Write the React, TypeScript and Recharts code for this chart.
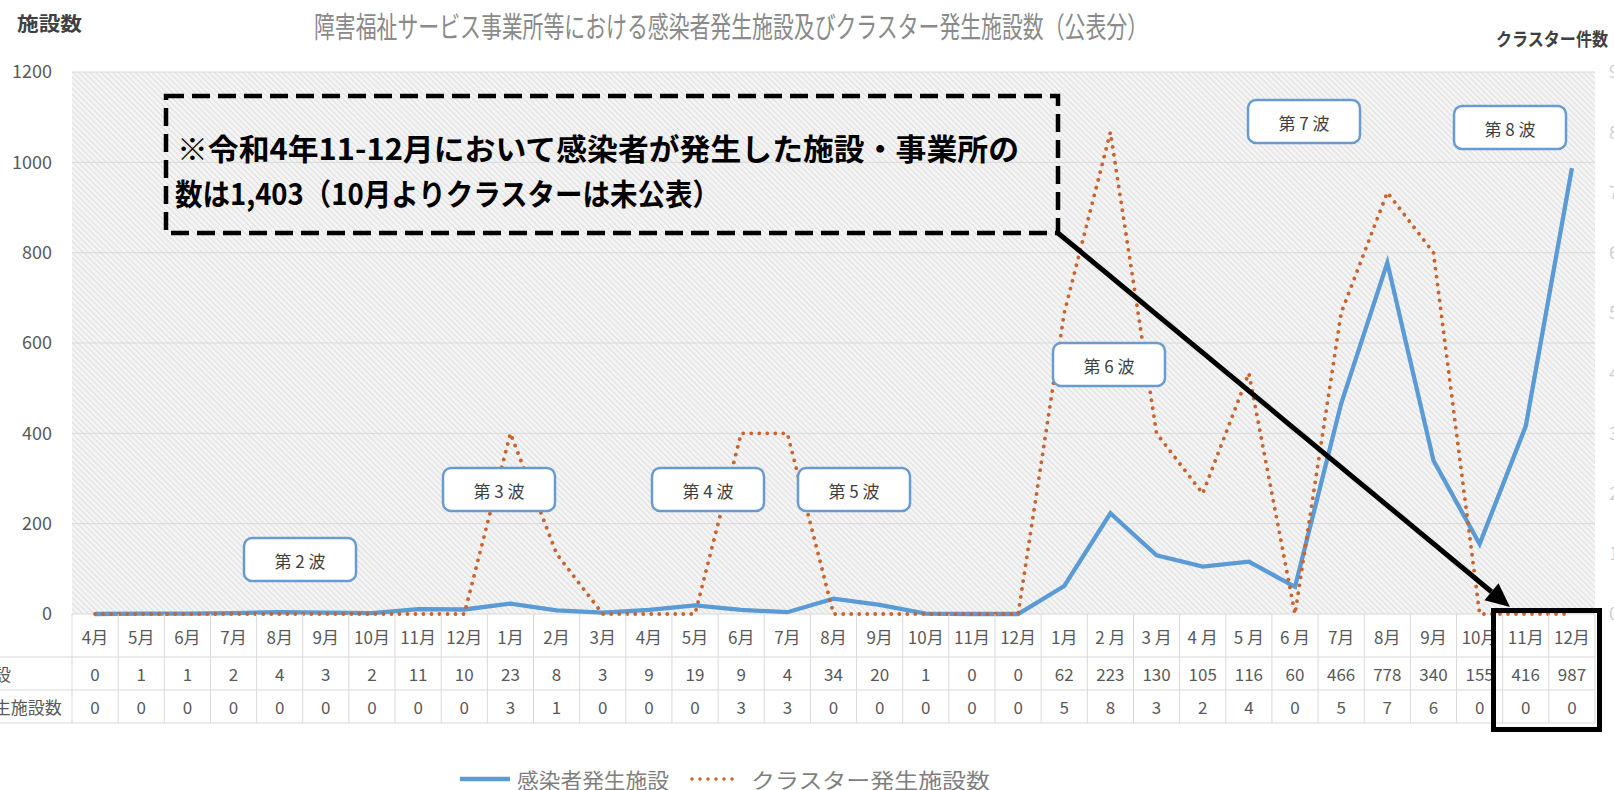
import React from 'react';
import { LineChart, Line, XAxis, YAxis, CartesianGrid } from 'recharts';

// 令和2年4月〜令和4年12月
const months = [
  '4月', '5月', '6月', '7月', '8月', '9月', '10月', '11月', '12月',
  '1月', '2月', '3月', '4月', '5月', '6月', '7月', '8月', '9月', '10月', '11月', '12月',
  '1月', '2 月', '3 月', '4 月', '5 月', '6 月', '7月', '8月', '9月', '10月', '11月', '12月',
];
const infected = [0, 1, 1, 2, 4, 3, 2, 11, 10, 23, 8, 3, 9, 19, 9, 4, 34, 20, 1, 0, 0, 62, 223, 130, 105, 116, 60, 466, 778, 340, 155, 416, 987];
const cluster = [0, 0, 0, 0, 0, 0, 0, 0, 0, 3, 1, 0, 0, 0, 3, 3, 0, 0, 0, 0, 0, 5, 8, 3, 2, 4, 0, 5, 7, 6, 0, 0, 0];
const leftTicks = [0, 200, 400, 600, 800, 1000, 1200];
const rightTicks = [0, 1, 2, 3, 4, 5, 6, 7, 8, 9];
const seriesNames = ['感染者発生施設', 'クラスター発生施設数'];
const waveLabels = ['第 2 波', '第 3 波', '第 4 波', '第 5 波', '第 6 波', '第 7 波', '第 8 波'];

const data = months.map((m, i) => ({ i, m, infected: infected[i], cluster: cluster[i] }));

// layout
const W = 1614;
const H = 790;
const PLOT_L = 72;
const PLOT_R = 1595;
const PLOT_T = 72;
const PLOT_B = 614;
const CELL = (PLOT_R - PLOT_L) / months.length;
const ROW1 = 657;
const ROW2 = 690;
const ROW3 = 723;
const FONT = '"Noto Sans CJK JP", "Noto Sans", sans-serif';
const GRID = '#d9d9d9';
const TXT = '#595959';
const BLUE = '#5b9bd5';
const ORANGE = '#c8642b';

const wavePos = [
  [244, 538], [443, 468], [652, 468], [798, 468], [1053, 343], [1248, 100], [1454, 106],
];

function TableTick(props: any) {
  const { x, payload } = props;
  const i = payload.value as number;
  const l = x - CELL / 2;
  const r = x + CELL / 2;
  const tc = { fontFamily: FONT, fontSize: 17, fill: TXT, textAnchor: 'middle' as const, dominantBaseline: 'central' as const };
  return (
    <g>
      <line x1={l} y1={PLOT_B} x2={l} y2={ROW3} stroke={GRID} />
      {i === months.length - 1 && <line x1={r} y1={PLOT_B} x2={r} y2={ROW3} stroke={GRID} />}
      <line x1={i === 0 ? 0 : l} y1={ROW1} x2={r} y2={ROW1} stroke={GRID} />
      <line x1={i === 0 ? 0 : l} y1={ROW2} x2={r} y2={ROW2} stroke={GRID} />
      <line x1={i === 0 ? 0 : l} y1={ROW3} x2={r} y2={ROW3} stroke={GRID} />
      <text x={x} y={(PLOT_B + ROW1) / 2 + 1} {...tc}>{months[i]}</text>
      <text x={x} y={(ROW1 + ROW2) / 2} {...tc}>{infected[i]}</text>
      <text x={x} y={(ROW2 + ROW3) / 2} {...tc}>{cluster[i]}</text>
      {i === 0 && (
        <>
          <text x={-108} y={(ROW1 + ROW2) / 2} {...tc} textAnchor="start">{seriesNames[0]}</text>
          <text x={-108} y={(ROW2 + ROW3) / 2} {...tc} textAnchor="start">{seriesNames[1]}</text>
        </>
      )}
    </g>
  );
}

function Overlay() {
  const sx = 1058, sy = 233, tx = 1510, ty = 607;
  const len = Math.hypot(tx - sx, ty - sy);
  const ux = (tx - sx) / len, uy = (ty - sy) / len;
  const bx = tx - 24 * ux, by = ty - 24 * uy;
  const head = `${tx},${ty} ${bx - 11 * uy},${by + 11 * ux} ${bx + 11 * uy},${by - 11 * ux}`;
  return (
    <svg width={W} height={H} style={{ position: 'absolute', left: 0, top: 0, pointerEvents: 'none' }}>
      <text x={17} y={22} fontFamily={FONT} fontSize={19} fontWeight="bold" fill="#404040" dominantBaseline="central" textLength={65} lengthAdjust="spacingAndGlyphs">施設数</text>
      <text x={314} y={25} fontFamily={FONT} fontSize={29} fill="#8a8a8a" dominantBaseline="central" textLength={834} lengthAdjust="spacingAndGlyphs">障害福祉サービス事業所等における感染者発生施設及びクラスター発生施設数（公表分）</text>
      <text x={1496} y={38} fontFamily={FONT} fontSize={18} fontWeight="bold" fill="#404040" dominantBaseline="central" textLength={112} lengthAdjust="spacingAndGlyphs">クラスター件数</text>

      <rect x={166} y={96} width={892} height={137} fill="none" stroke="#000" strokeWidth={4.5} strokeDasharray="18 8" />
      <text x={177} y={147} fontFamily={FONT} fontSize={30} fontWeight="bold" fill="#000" dominantBaseline="central" textLength={842} lengthAdjust="spacingAndGlyphs">※令和4年11-12月において感染者が発生した施設・事業所の</text>
      <text x={175} y={192} fontFamily={FONT} fontSize={30} fontWeight="bold" fill="#000" dominantBaseline="central" textLength={545} lengthAdjust="spacingAndGlyphs">数は1,403（10月よりクラスターは未公表）</text>

      <line x1={sx} y1={sy} x2={bx} y2={by} stroke="#000" strokeWidth={5} />
      <polygon points={head} fill="#000" />
      <rect x={1493.5} y={610.5} width={106} height={119} fill="none" stroke="#000" strokeWidth={5} />

      {waveLabels.map((t, k) => (
        <g key={t}>
          <rect x={wavePos[k][0]} y={wavePos[k][1]} width={112} height={43} rx={8} fill="#fff" stroke="#6a9bd0" strokeWidth={2.5} />
          <text x={wavePos[k][0] + 56} y={wavePos[k][1] + 22} fontFamily={FONT} fontSize={17} fill="#404040" textAnchor="middle" dominantBaseline="central">{t}</text>
        </g>
      ))}

      <line x1={460} y1={779} x2={510} y2={779} stroke={BLUE} strokeWidth={4.5} />
      <text x={517} y={779} fontFamily={FONT} fontSize={21} fill="#7f7f7f" dominantBaseline="central" textLength={152} lengthAdjust="spacingAndGlyphs">{seriesNames[0]}</text>
      <line x1={692} y1={779} x2={736} y2={779} stroke={ORANGE} strokeWidth={3.5} strokeDasharray="0.01 8" strokeLinecap="round" />
      <text x={751} y={779} fontFamily={FONT} fontSize={21} fill="#7f7f7f" dominantBaseline="central" textLength={239} lengthAdjust="spacingAndGlyphs">{seriesNames[1]}</text>
    </svg>
  );
}

export default function App() {
  return (
    <div style={{ position: 'absolute', left: 0, top: 0, width: W, height: H, overflow: 'hidden', background: '#fff' }}>
      <LineChart width={W} height={H} data={data} margin={{ top: PLOT_T, right: 0, bottom: 0, left: 0 }}>
        <defs>
          <pattern id="hatch" width="4" height="4" patternUnits="userSpaceOnUse" patternTransform="rotate(-45)">
            <rect width="4" height="4" fill="#f4f4f4" />
            <line x1="0" y1="0" x2="0" y2="4" stroke="#d6d6d6" strokeWidth="1.4" />
          </pattern>
        </defs>
        <CartesianGrid vertical={false} stroke={GRID} fill="url(#hatch)" fillOpacity={1} yAxisId="l" />
        <XAxis
          dataKey="i"
          type="category"
          height={H - PLOT_B}
          padding={{ left: CELL / 2, right: CELL / 2 }}
          axisLine={false}
          tickLine={false}
          interval={0}
          tick={<TableTick />}
        />
        <YAxis
          yAxisId="l"
          width={PLOT_L}
          domain={[0, 1200]}
          ticks={leftTicks}
          axisLine={false}
          tickLine={false}
          tickSize={0}
          tickMargin={20}
          tick={{ fontFamily: FONT, fontSize: 18, fill: TXT }}
        />
        <YAxis
          yAxisId="r"
          orientation="right"
          width={W - PLOT_R}
          domain={[0, 9]}
          ticks={rightTicks}
          axisLine={false}
          tickLine={false}
          tickSize={0}
          tickMargin={14}
          tick={{ fontFamily: FONT, fontSize: 18, fill: '#d0d0d0', textAnchor: 'start' }}
        />
        <Line yAxisId="l" type="linear" dataKey="infected" stroke={BLUE} strokeWidth={4.3} dot={false} isAnimationActive={false} />
        <Line yAxisId="r" type="linear" dataKey="cluster" stroke={ORANGE} strokeWidth={3.8} strokeDasharray="0.01 8" strokeLinecap="round" dot={false} isAnimationActive={false} />
      </LineChart>
      <Overlay />
    </div>
  );
}
